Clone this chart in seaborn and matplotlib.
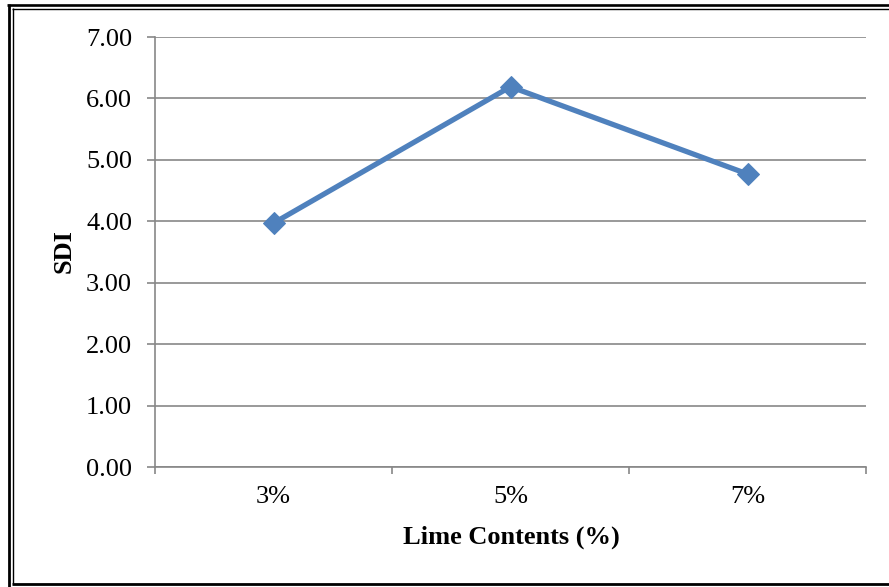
import matplotlib
matplotlib.use("Agg")
import matplotlib.pyplot as plt
from matplotlib.lines import Line2D
from matplotlib.ticker import FixedLocator
import seaborn as sns
import pandas as pd

# Data
lime_contents = ["3%", "5%", "7%"]
sdi_values = [3.97, 6.19, 4.77]
y_ticks = [0, 1, 2, 3, 4, 5, 6, 7]

sns.set_theme(style="white")
plt.rcParams["font.family"] = ["Liberation Serif", "DejaVu Serif"]

W, H = 889, 587
fig = plt.figure(figsize=(W / 100, H / 100), dpi=100)
fig.patch.set_facecolor("white")


def px(x, y):
    return x / W, 1 - y / H


# Plot area
x0, y0 = px(155, 467)
x1, y1 = px(866, 37)
ax = fig.add_axes([x0, y0, x1 - x0, y1 - y0])

df = pd.DataFrame({"Lime Contents (%)": lime_contents, "SDI": sdi_values})
sns.lineplot(data=df, x="Lime Contents (%)", y="SDI", ax=ax,
             color="#4F81BD", linewidth=3.8, marker="D", markersize=11,
             markeredgecolor="#4F81BD", markerfacecolor="#4F81BD", zorder=3)

grid_color = "#878787"
fs = 19
ax.set_ylim(0, 7)
ax.set_xlim(-0.5, len(lime_contents) - 0.5)
ax.set_yticks(y_ticks)
ax.set_yticklabels([f"{v:.2f}" for v in y_ticks])
ax.set_xticks(range(len(lime_contents)))
ax.set_xticklabels(lime_contents)
ax.xaxis.set_minor_locator(FixedLocator([i - 0.5 for i in range(len(lime_contents) + 1)]))

ax.yaxis.grid(True, color=grid_color, linewidth=1.2)
ax.xaxis.grid(False)
ax.set_axisbelow(True)

for side in ["top", "right"]:
    ax.spines[side].set_visible(False)
for side in ["left", "bottom"]:
    ax.spines[side].set_color(grid_color)
    ax.spines[side].set_linewidth(1.2)

ax.tick_params(axis="y", which="major", left=True, length=5.5, width=1.2,
               color=grid_color, labelsize=fs, labelcolor="black", pad=11)
ax.tick_params(axis="x", which="major", bottom=False, length=0,
               labelsize=fs, labelcolor="black", pad=14)
ax.tick_params(axis="x", which="minor", bottom=True, length=5, width=1.2,
               color=grid_color)

ax.set_xlabel("Lime Contents (%)", fontsize=fs, fontweight="bold", color="black")
ax.set_ylabel("SDI", fontsize=fs, fontweight="bold", color="black")
ax.xaxis.label.set_verticalalignment("center")
ax.xaxis.set_label_coords((511 - 155) / 711, (467 - 537) / 430)
ax.yaxis.label.set_verticalalignment("center")
ax.yaxis.label.set_horizontalalignment("center")
ax.yaxis.set_label_coords((64 - 155) / 711, (467 - 251) / 430)

# Double frame around the chart
def frame_line(xs, ys, lw):
    fx = [x / W for x in xs]
    fy = [1 - y / H for y in ys]
    fig.add_artist(Line2D(fx, fy, color="black", linewidth=lw,
                          transform=fig.transFigure, solid_capstyle="butt"))

frame_line([8.7, 8.7], [4, H], 2.0)
frame_line([7.3, W], [5.2, 5.2], 1.9)
frame_line([12.5, 12.5], [8.3, 584], 1.0)
frame_line([12, W], [8.8, 8.8], 1.0)
frame_line([12, W], [583.5, 583.5], 2.0)

fig.savefig("out.png", dpi=100, facecolor="white")
